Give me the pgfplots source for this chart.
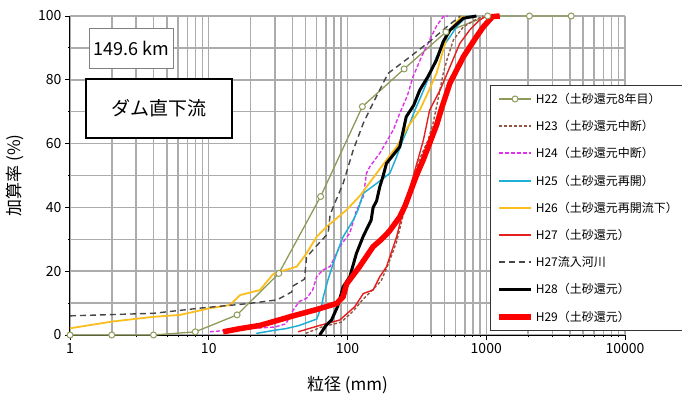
\documentclass[border=0pt]{standalone}
\usepackage{fontspec}
\setmainfont{Noto Sans CJK JP}
\usepackage{pgfplots}
\pgfplotsset{compat=1.18}
\definecolor{cHa}{RGB}{140,155,90}
\definecolor{cHb}{RGB}{150,85,65}
\definecolor{cHc}{RGB}{225,50,235}
\definecolor{cHd}{RGB}{30,175,215}
\definecolor{cHe}{RGB}{250,190,30}
\definecolor{cHf}{RGB}{230,30,30}
\definecolor{cHg}{RGB}{70,70,70}
\definecolor{cHi}{RGB}{255,0,0}
\begin{document}
\begin{tikzpicture}
\path[use as bounding box] (-70bp,-70bp) rectangle (612bp,335bp);
\begin{axis}[
  scale only axis, width=555bp, height=319bp,
  xmode=log, xmin=1, xmax=10000, ymin=0, ymax=100,
  xtick={1,10,100,1000,10000}, xticklabels={1,10,100,1000,10000},
  minor xtick={2,3,4,5,6,7,8,9,20,30,40,50,60,70,80,90,200,300,400,500,600,700,800,900,2000,3000,4000,5000,6000,7000,8000,9000},
  ytick={0,20,40,60,80,100}, minor ytick={10,30,50,70,90},
  grid=both,
  major grid style={draw=gray!65, line width=1.5bp},
  minor grid style={draw=gray!65, line width=1.5bp},
  axis lines=left, axis line style={-, black, line width=1bp},
  tick align=outside, major tick length=5bp, minor tick length=2bp,
  tick style={black, line width=0.8bp},
  /pgf/number format/assume math mode=true,
  tick label style={font=\fontsize{14bp}{16bp}\selectfont},
  xlabel={粒径 (mm)}, ylabel={加算率 (\%)},
  label style={font=\fontsize{17bp}{20bp}\selectfont},
  xlabel style={at={(axis description cs:0.5,-0.157)}, anchor=center},
  ylabel style={at={(axis description cs:-0.099,0.5)}, anchor=center},
  clip=false,
  legend style={at={(0.757,0.784)}, anchor=north west, draw=black!80, fill=white,
    font=\fontsize{12bp}{14bp}\selectfont, row sep=11.5bp, inner xsep=6bp, inner ysep=6bp,
    cells={anchor=west}},
  legend image code/.code={\draw[mark repeat=2,mark phase=2] plot coordinates {(0bp,0bp) (16bp,0bp) (32bp,0bp)};},
]
\addplot[color=cHa, line width=1.3bp, mark=*, mark size=3bp, mark options={fill=white, draw=cHa, solid, line width=1bp}, legend image post style={draw=cHa, line width=1.8bp}] coordinates {
(1,0)(2,0)(4,0)(8,1)(16,6.3)(32,19.3)(64,43.4)(128,71.6)(256,83.4)(512,95)(1024,100)(2048,100)(4096,100)};
\addlegendentry{H22（土砂還元8年目）}
\addplot[color=cHb, line width=1.4bp, dash pattern=on 3bp off 2bp, legend image post style={draw=cHb, line width=2bp}] coordinates {
(50,0.5)(65,2.5)(90,4)(110,7.5)(128,11)(150,14)(175,17)(200,23)(225,29)(250,37)(290,47)(330,55)(380,61)(414,66.4)(450,74)(490,82)(520,86.2)(580,92.5)(684,96.6)(850,99)(950,100)};
\addlegendentry{H23（土砂還元中断）}
\addplot[color=cHc, line width=1.4bp, dash pattern=on 4bp off 2bp, legend image post style={draw=cHc, line width=2bp}] coordinates {
(10.2,1)(18.8,2)(30,2.5)(36,3.5)(40.6,7.8)(45,10.5)(50.7,11.5)(56,14)(60,18.3)(66.6,20.4)(75,21.5)(88,27.7)(104,32)(116,39)(130,43.4)(137,50.7)(145,52.8)(171,57)(214,64.3)(238,69.5)(270,75)(297,81)(340,87)(391,92.5)(440,97)(490,99.8)(530,100)};
\addlegendentry{H24（土砂還元中断）}
\addplot[color=cHd, line width=1.5bp, legend image post style={draw=cHd, line width=2bp}] coordinates {
(22,0.5)(30,1.5)(36,2)(45,3)(60,5)(65,9)(67,12)(72,17)(79,22.5)(86,27)(93,30.8)(110,36)(119,39.2)(130,44.4)(162,47.5)(202,50.7)(226,55.9)(250,61)(282,66.4)(306,70.5)(340,75)(370,78.9)(438,87.2)(480,90)(548,93.5)(620,97)(718,99.8)(760,100)};
\addlegendentry{H25（土砂還元再開）}
\addplot[color=cHe, line width=1.8bp, legend image post style={draw=cHe, line width=2bp}] coordinates {
(1,2.1)(2,4.2)(4,5.7)(6.2,6.3)(10.2,8.4)(14.2,9.4)(16.8,12.5)(23.4,14.1)(29,19)(31,19.6)(43,21.4)(50.7,25.6)(60,30.8)(71,34)(98.5,39.2)(125,44)(162,50.7)(200,56)(226,59)(270,65)(332,70.5)(380,76)(438,82)(480,88)(520,93.5)(580,97)(645,99.3)(700,100)};
\addlegendentry{H26（土砂還元再開流下）}
\addplot[color=cHf, line width=1.4bp, legend image post style={draw=cHf, line width=2bp}] coordinates {
(44,1)(63,3)(88,4.7)(113,8.9)(130,13)(153,14.1)(171,18.3)(191,21.4)(226,30.8)(250,38.5)(297,49.6)(352,61)(391,70.5)(465,76.8)(548,84.1)(645,91.4)(760,95.6)(895,98.7)(1000,100)};
\addlegendentry{H27（土砂還元）}
\addplot[color=cHg, line width=1.4bp, dash pattern=on 6bp off 4bp, legend image post style={draw=cHg, line width=1.8bp}] coordinates {
(1,6)(4,6.8)(9,8.5)(18.8,9.8)(31,11)(39.6,13.5)(40.6,15.4)(49,17.5)(50.7,24.5)(53.6,25.6)(60,28)(72.6,31.9)(74.9,37.6)(79,40.2)(93,47.5)(110,58)(130,66.4)(150,72)(196,82)(282,87.2)(391,92)(520,96.6)(650,100)};
\addlegendentry{H27流入河川}
\addplot[color=black, line width=3bp, legend image post style={draw=black}] coordinates {
(63,0)(70,3)(76.7,4.7)(85,9)(93,15.1)(104,18.3)(116,25.6)(130,31)(148,36)(153,40)(162,42)(171,46.5)(181,50)(191,53.8)(238,59)(265,68.4)(300,72)(332,76.8)(380,81)(438,86.2)(490,92)(548,95.6)(684,99.3)(850,100)};
\addlegendentry{H28（土砂還元）}
\addplot[color=cHi, line width=5.5bp, legend image post style={draw=cHi}] coordinates {
(12.7,1)(16.8,2)(23.4,3)(40.6,6)(60,8)(83.7,9.9)(93,12)(98.5,16)(122,21.4)(153,27.7)(176,30)(200,32.5)(238,37)(260,40.5)(290,46)(314,50)(352,55)(390,60)(440,66)(480,71.5)(548,79)(684,87.2)(850,93.5)(953,96.6)(1110,99.8)(1250,100)};
\addlegendentry{H29（土砂還元）}
\node[draw=gray, line width=0.8bp, fill=white, minimum width=84bp, minimum height=40bp, inner sep=1bp, font=\fontsize{18bp}{20bp}\selectfont] at (rel axis cs:0.110,0.897) {149.6 km};
\node[draw=black, line width=1.6bp, fill=white, minimum width=146bp, minimum height=59bp, inner sep=1bp, font=\fontsize{19bp}{22bp}\selectfont] at (rel axis cs:0.160,0.710) {ダム直下流};
\end{axis}
\end{tikzpicture}
\end{document}
